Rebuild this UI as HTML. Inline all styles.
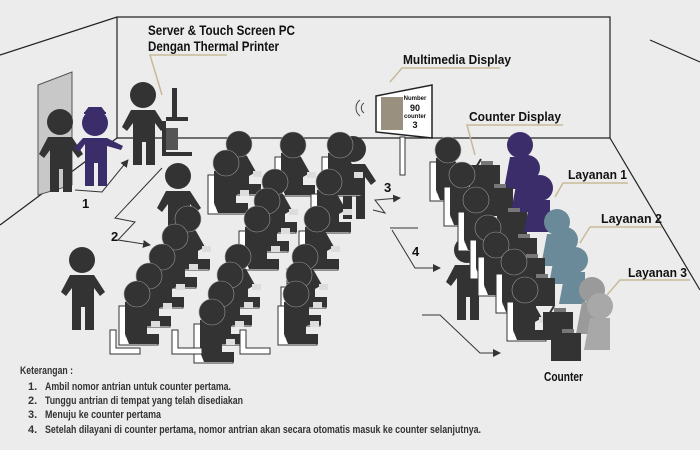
<!DOCTYPE html>
<html><head><meta charset="utf-8"><style>
html,body{margin:0;padding:0;background:#ececec}
svg{display:block}
.t{font-family:"Liberation Sans",sans-serif;font-weight:bold;fill:#111}
.l{font-family:"Liberation Sans",sans-serif;font-weight:bold;fill:#333;font-size:11px}
</style></head><body>
<svg width="700" height="450" viewBox="0 0 700 450" xmlns="http://www.w3.org/2000/svg">
<defs>
<marker id="a" markerWidth="8" markerHeight="8" refX="7" refY="4" orient="auto" markerUnits="userSpaceOnUse"><path d="M0,0 L8,4 L0,8 z" fill="#333"/></marker>
<g id="s">
 <path d="M-18,12 h7 v30 h32 v9 h-39 z" fill="#fff" stroke="#333" stroke-width="1"/>
 <path d="M-12,8 Q0,4 8,12 L17,28 L10,32 L10,40 L22,40 L22,50 L-8,50 L-12,40 Z" fill="#333"/>
 <rect x="14" y="27" width="9" height="6" fill="#ddd"/>
 <circle cx="0" cy="0" r="13" fill="#333" stroke="#999" stroke-width="0.6"/>
</g>
<g id="st">
 <circle cx="0" cy="0" r="13" fill="#333"/>
 <path d="M-12,15 h24 l11,17 -5,4 -6,-8 v42 h-9 v-23 h-4 v23 h-9 v-42 l-6,8 -5,-4 z" fill="#333"/>
</g>
<g id="desk">
 <rect x="-15" y="0" width="30" height="28" fill="#333"/>
 <rect x="-4" y="-4" width="12" height="4" fill="#777"/>
 <line x1="-10" y1="4" x2="-4" y2="-6" stroke="#333" stroke-width="2"/>
</g>
</defs>
<!-- room -->
<g stroke="#222" stroke-width="1.2" fill="none">
 <path d="M0,55 L117,17 L610,17 L610,138 L117,138 L117,17"/>
 <path d="M117,138 L0,225"/>
 <path d="M610,138 L700,290"/>
 <path d="M650,40 L700,62"/>
</g>
<!-- door -->
<path d="M38,85 L72,72 L72,185 L38,195 Z" fill="#c8c8c8" stroke="#555"/>
<!-- standing figures -->
<use href="#st" transform="translate(60,122)"/>
<g transform="translate(95,123)">
 <circle cx="0" cy="0" r="13" fill="#3a2d6a"/>
 <path d="M-9,-11 h18 l-3,-4 h-12 z M-11,-10 h22" fill="#3a2d6a" stroke="#3a2d6a" stroke-width="2"/>
 <path d="M-12,15 h24 l16,8 -2,4 -14,-4 v40 h-9 v-23 h-4 v23 h-9 v-42 l-6,8 -5,-4 z" fill="#3a2d6a"/>
</g>
<use href="#st" transform="translate(143,95)"/>
<!-- kiosk -->
<g fill="#333">
 <rect x="172" y="88" width="5" height="30"/>
 <rect x="166" y="117" width="22" height="4"/>
 <rect x="162" y="121" width="4" height="34"/>
 <rect x="162" y="152" width="30" height="4"/>
 <rect x="166" y="128" width="12" height="22" fill="#555"/>
</g>
<use href="#st" transform="translate(178,176)"/>
<use href="#st" transform="translate(82,260)"/>
<use href="#st" transform="translate(353,149)"/>
<use href="#st" transform="translate(467,250)"/>
<!-- seated waiting -->
<use href="#s" x="239" y="144"/><use href="#s" x="293" y="145"/><use href="#s" x="340" y="145"/>
<use href="#s" x="226" y="163"/><use href="#s" x="275" y="182"/><use href="#s" x="329" y="182"/>
<use href="#s" x="267" y="201"/><use href="#s" x="257" y="219"/><use href="#s" x="317" y="219"/>
<use href="#s" x="188" y="219"/><use href="#s" x="175" y="237"/><use href="#s" x="162" y="257"/>
<use href="#s" x="149" y="276"/><use href="#s" x="137" y="294"/>
<use href="#s" x="238" y="257"/><use href="#s" x="230" y="275"/><use href="#s" x="221" y="294"/><use href="#s" x="212" y="312"/>
<use href="#s" x="305" y="257"/><use href="#s" x="299" y="275"/><use href="#s" x="296" y="294"/>
<path d="M110,330 h6 v18 h24 v6 h-30 z" fill="#fff" stroke="#333"/>
<path d="M240,330 h6 v18 h24 v6 h-30 z" fill="#fff" stroke="#333"/>
<path d="M172,330 h6 v18 h24 v6 h-30 z" fill="#fff" stroke="#333"/>
<!-- counter rows -->
<g>
 <use href="#s" x="448" y="150"/><use href="#desk" x="485" y="165"/><circle cx="520" cy="145" r="13" fill="#3a2d6a"/><path d="M510,157 h20 v32 h-26 z" fill="#3a2d6a"/>
 <use href="#s" x="462" y="175"/><use href="#desk" x="498" y="188"/><circle cx="527" cy="168" r="13" fill="#3a2d6a"/><path d="M517,180 h20 v32 h-26 z" fill="#3a2d6a"/>
 <use href="#s" x="476" y="200"/><use href="#desk" x="512" y="212"/><circle cx="540" cy="188" r="13" fill="#3a2d6a"/><path d="M530,200 h20 v32 h-26 z" fill="#3a2d6a"/>
 <use href="#s" x="488" y="228"/><use href="#desk" x="522" y="238"/><circle cx="557" cy="222" r="13" fill="#6a8a9a"/><path d="M547,234 h20 v32 h-26 z" fill="#6a8a9a"/>
 <use href="#s" x="496" y="245"/><use href="#desk" x="530" y="258"/><circle cx="565" cy="240" r="13" fill="#6a8a9a"/><path d="M555,252 h20 v32 h-26 z" fill="#6a8a9a"/>
 <use href="#s" x="514" y="262"/><use href="#desk" x="540" y="278"/><circle cx="575" cy="260" r="13" fill="#6a8a9a"/><path d="M565,272 h20 v32 h-26 z" fill="#6a8a9a"/>
 <use href="#s" x="525" y="290"/><use href="#desk" x="558" y="312"/><circle cx="592" cy="290" r="13" fill="#9a9a9a"/><path d="M582,302 h20 v32 h-26 z" fill="#9a9a9a"/>
 <use href="#desk" x="566" y="333"/><circle cx="600" cy="306" r="13" fill="#a8a8a8"/><path d="M590,318 h20 v32 h-26 z" fill="#a8a8a8"/>
</g>
<!-- display -->
<path d="M376,96 L432,85 L432,138 L376,132 Z" fill="#fff" stroke="#222" stroke-width="1.5"/>
<rect x="381" y="97" width="22" height="33" fill="#9a9080"/>
<text x="415" y="100" font-size="6" class="t" text-anchor="middle">Number</text>
<text x="415" y="111" font-size="9" class="t" text-anchor="middle">90</text>
<text x="415" y="118" font-size="6" class="t" text-anchor="middle">counter</text>
<text x="415" y="128" font-size="9" class="t" text-anchor="middle">3</text>
<rect x="400" y="137" width="5" height="38" fill="#fff" stroke="#333"/>
<path d="M360,100 a10,10 0 0 0 0,16 M364,103 a6,6 0 0 0 0,10" stroke="#444" fill="none"/>
<!-- leader lines -->
<g stroke="#c8b99a" stroke-width="1.5" fill="none">
 <path d="M162,95 L150,55 L227,55"/>
 <path d="M390,82 L402,68 L500,68"/>
 <path d="M475,155 L467,125 L563,125"/>
 <path d="M555,197 L563,183 L628,183"/>
 <path d="M580,243 L590,227 L662,227"/>
 <path d="M607,295 L620,280 L690,280"/>
</g>
<!-- flow arrows -->
<g stroke="#333" stroke-width="1" fill="none">
 <path d="M75,190 L102,192 L128,160" marker-end="url(#a)"/>
 <path d="M162,168 L115,218 L135,222 L118,240 L150,245" marker-end="url(#a)"/>
 <path d="M373,210 L385,213 L375,200 L400,198" marker-end="url(#a)"/>
 <path d="M390,228 L418,228 M392,230 L415,268 L440,268" marker-end="url(#a)"/>
 <path d="M422,315 L440,315 L480,353 L500,353" marker-end="url(#a)"/>
</g>
<text x="82" y="208" class="t" font-size="13" font-weight="normal">1</text>
<text x="111" y="241" class="t" font-size="13">2</text>
<text x="384" y="192" class="t" font-size="13">3</text>
<text x="412" y="256" class="t" font-size="13">4</text>
<!-- labels -->
<text x="148" y="35" class="t" font-size="14" textLength="147" lengthAdjust="spacingAndGlyphs">Server &amp; Touch Screen PC</text>
<text x="148" y="51" class="t" font-size="14" textLength="131" lengthAdjust="spacingAndGlyphs">Dengan Thermal Printer</text>
<text x="403" y="64" class="t" font-size="12.5" textLength="108" lengthAdjust="spacingAndGlyphs">Multimedia Display</text>
<text x="469" y="121" class="t" font-size="12.5" textLength="92" lengthAdjust="spacingAndGlyphs">Counter Display</text>
<text x="568" y="179" class="t" font-size="12.5" textLength="59" lengthAdjust="spacingAndGlyphs">Layanan 1</text>
<text x="601" y="223" class="t" font-size="12.5" textLength="61" lengthAdjust="spacingAndGlyphs">Layanan 2</text>
<text x="628" y="277" class="t" font-size="12.5" textLength="59" lengthAdjust="spacingAndGlyphs">Layanan 3</text>
<text x="544" y="381" class="t" font-size="13" textLength="39" lengthAdjust="spacingAndGlyphs">Counter</text>
<text x="20" y="374" class="l" font-weight="normal" textLength="53" lengthAdjust="spacingAndGlyphs">Keterangan :</text>
<text x="28" y="390" class="l">1.</text><text x="45" y="390" class="l" textLength="186" lengthAdjust="spacingAndGlyphs">Ambil nomor antrian untuk counter pertama.</text>
<text x="28" y="404" class="l">2.</text><text x="45" y="404" class="l" textLength="198" lengthAdjust="spacingAndGlyphs">Tunggu antrian di tempat yang telah disediakan</text>
<text x="28" y="418" class="l">3.</text><text x="45" y="418" class="l" textLength="116" lengthAdjust="spacingAndGlyphs">Menuju ke counter pertama</text>
<text x="28" y="433" class="l">4.</text><text x="45" y="433" class="l" textLength="436" lengthAdjust="spacingAndGlyphs">Setelah dilayani di counter pertama, nomor antrian akan secara otomatis masuk ke counter selanjutnya.</text>
</svg>
</body></html>
